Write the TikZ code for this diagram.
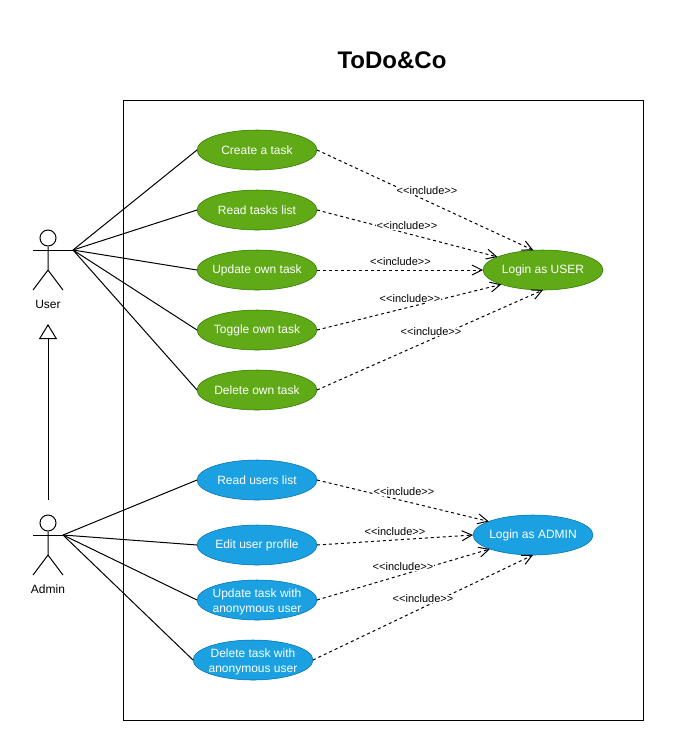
\documentclass[tikz,border=0pt]{standalone}
\usepackage{fontspec}
\setmainfont{Liberation Sans}
\usetikzlibrary{arrows.meta,shapes.geometric}

\begin{document}
\begin{tikzpicture}[x=0.75pt,y=-0.75pt,>={Straight Barb[length=7.5pt,width=7.5pt]}]
      \definecolor{taskgreen}{HTML}{60A917}
      \definecolor{greenedge}{HTML}{2D7600}
      \definecolor{taskblue}{HTML}{1BA1E2}
      \definecolor{blueedge}{HTML}{006EAF}
      \tikzset{
	  usecase/.style={ellipse, text=white, inner xsep=-20pt, inner ysep=-5pt, outer sep=0em, minimum width=90pt, minimum height=30pt, align=center, font=\fontsize{9}{11.25}\selectfont},
	  usergreen/.style={usecase, draw=greenedge, fill=taskgreen},
	  adminblue/.style={usecase, draw=blueedge, fill=taskblue},
	  stick/.style={line width=0.75pt},
	  assoc/.style={line width=0.75pt},
	  incl/.style={line width=0.75pt, dash pattern=on 2.25pt off 2.25pt, ->},
	  incllabel/.style={fill=white, inner sep=0.3pt, font=\fontsize{8.25}{10}\selectfont},
	  actorlabel/.style={inner sep=0em, font=\fontsize{9}{11}\selectfont}
      }

      %-----#1 name of the actor, #2 x of the body, #3 y of the arms, #4 label
      \def\actor[#1,#2,#3]#4{%
	\node[circle, draw, line width=0.75pt, inner sep=0em, minimum size=12pt] (#1head) at (#2, #3-12) {};%
	\draw[stick] (#1head.south) -- (#2, #3+20) -- +(-15, 20);%
	\draw[stick] (#2, #3+20) -- +(15, 20);%
	\draw[stick] (#2-15, #3) -- (#2+15, #3);%
	\node[actorlabel] (#1label) at (#2, #3+54) {#4};}
      \def\incl{<{}<include>{}>}
      \def\lowered{\rule{0pt}{9pt}}

      \useasboundingbox (0,0) rectangle (674,751);

      \node (title) at (392,60) [font=\bfseries\fontsize{18}{22}\selectfont] {ToDo\&Co};
      \node (system) at (383.5,410.5) [draw, line width=0.75pt, minimum width=390pt, minimum height=465pt, inner sep=0em, outer sep=0em] {};

      \actor[user,48,250] {User};
      \actor[admin,48,535] {Admin};
      \coordinate (userport) at (73,250);
      \coordinate (adminport) at (63,535);
      \coordinate (usertip) at (48,324);
      \coordinate (adminfoot) at (48,500);

      \node (create) at (257,150) [usergreen] {Create a task};
      \node (read) at (257,210) [usergreen] {Read tasks list};
      \node (update) at (257,270) [usergreen] {Update own task};
      \node (toggle) at (257,330) [usergreen] {Toggle own task};
      \node (delete) at (257,390) [usergreen] {Delete own task};
      \node (loginuser) at (543,270) [usergreen] {Login as USER};

      \node (readusers) at (257,480) [adminblue] {Read users list};
      \node (edit) at (257,545) [adminblue] {Edit user profile};
      \node (updateanon) at (257,600) [adminblue] {\lowered Update task with\\anonymous user};
      \node (deleteanon) at (253,660) [adminblue] {\lowered Delete task with\\anonymous user};
      \node (loginadmin) at (533,535) [adminblue] {Login as ADMIN};

      \draw[stick] (63,250) -- (userport);
      \foreach \target in {create,read,update,toggle,delete}
	\draw[assoc] (userport) -- (\target.west);
      \foreach \target in {readusers,edit,updateanon,deleteanon}
	\draw[assoc] (adminport) -- (\target.west);

      \draw[line width=0.75pt, -{Triangle[open, length=11.25pt, width=13.5pt]}] (adminfoot) -- (usertip);

      \draw[incl] (create.east) -- (loginuser.116);
      \draw[incl] (read.east) -- (loginuser.164);
      \draw[incl] (update.east) -- (loginuser.west);
      \draw[incl] (toggle.east) -- (loginuser.199);
      \draw[incl] (delete.east) -- (loginuser.south);

      \draw[incl] (readusers.east) -- (loginadmin.163);
      \draw[incl] (edit.east) -- (loginadmin.west);
      \draw[incl] (updateanon.east) -- (loginadmin.198);
      \draw[incl] (deleteanon.east) -- (loginadmin.south);

      \node (inc1) at (427,191) [incllabel] {\incl};
      \node (inc2) at (407,226) [incllabel] {\incl};
      \node (inc3) at (400.5,262) [incllabel] {\incl};
      \node (inc4) at (410,299) [incllabel] {\incl};
      \node (inc5) at (431,332) [incllabel] {\incl};
      \node (inc6) at (404,492) [incllabel] {\incl};
      \node (inc7) at (395,532) [incllabel] {\incl};
      \node (inc8) at (403,567) [incllabel] {\incl};
      \node (inc9) at (423,599) [incllabel] {\incl};
\end{tikzpicture}
\end{document}
